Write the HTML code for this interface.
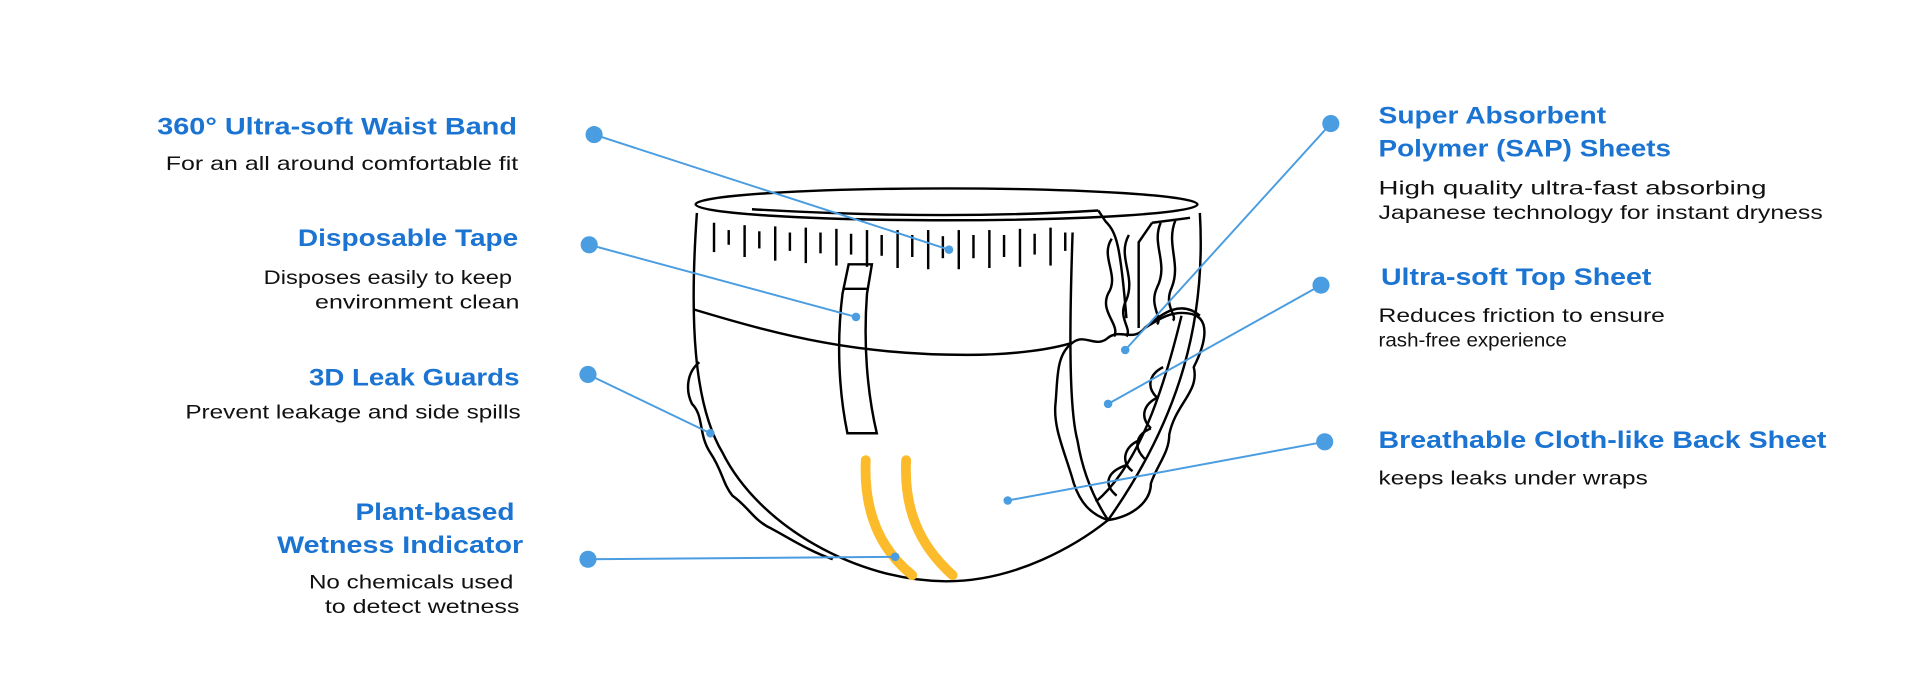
<!DOCTYPE html>
<html><head><meta charset="utf-8"><style>
html,body{margin:0;padding:0;background:#fff;}
svg{display:block;}
.t{font-family:"Liberation Sans",sans-serif;font-weight:bold;font-size:19.5px;fill:#1b74d2;}
.d{font-family:"Liberation Sans",sans-serif;font-size:15.5px;fill:#111;}
.k{fill:none;stroke:#000;stroke-width:2;}
.b{stroke:#4a9de0;stroke-width:1.6;fill:none;}
.dot{fill:#4a9de0;}
</style></head><body>
<svg width="1920" height="700" viewBox="0 0 1568 572" xmlns="http://www.w3.org/2000/svg">
<g class="k">
<ellipse cx="773" cy="167" rx="205" ry="13"/>
<path d="M569 174 C563 260 566 330 590 370 C620 430 700 475 773 475 C830 475 880 445 905 425"/>
<path d="M980 174 C985 260 965 340 905 425"/>
<path d="M567 253 C640 275 700 290 790 290 C830 290 860 285 876 280"/>
<path d="M614 171 C700 176 800 178 897 172"/>
<path d="M571 296 C560 305 560 320 565 330 C575 340 570 355 580 370 C590 385 590 395 598 405 C612 415 615 425 630 432 C645 440 660 450 680 457"/>
<path d="M693 216 L712 216 L708 240 C705 280 708 320 716 354 L692 354 C685 320 683 280 688 240 Z"/>
<path d="M688 236 L708 236"/>
<path d="M876 190 C874 250 872 330 880 360 C885 390 895 410 905 425"/>
<path d="M876 280 C886 272 895 285 905 276 C915 268 925 280 935 268 C950 255 965 245 980 258"/>
<path d="M876 280 C862 290 864 310 862 330 C860 350 870 370 877 395 C882 410 890 420 905 425 C925 422 940 410 940 395 C945 380 955 370 955 355 C960 330 980 320 975 300 C985 280 990 258 970 256 C955 254 945 262 935 268"/>
<path d="M965 258 C950 320 930 380 895 410"/>
<path d="M897 172 L903 181 C912 190 915 200 920 260"/>
<path d="M941 182 L930 198 L930 268"/>
<path d="M941 182 L972 178"/>
<path d="M908 195 C898 210 915 225 905 240 C898 255 915 265 910 275" />
<path d="M922 192 C912 210 928 225 920 245 C912 260 925 268 920 275"/>
<path d="M948 182 C940 200 955 215 945 235 C938 250 950 260 945 265"/>
<path d="M960 180 C952 200 965 215 957 235 C950 250 962 258 958 262"/>
<path d="M950 300 C940 305 935 315 945 325 M945 325 C935 330 930 340 940 350 M940 350 C928 355 925 365 935 375 M930 360 C918 365 915 378 925 385 M920 380 C905 385 900 395 912 405"/>
</g>
<g stroke="#000" stroke-width="2">
<line x1="583" y1="182" x2="583" y2="206"/><line x1="595" y1="188" x2="595" y2="200"/>
<line x1="608" y1="184" x2="608" y2="210"/><line x1="620" y1="189" x2="620" y2="203"/>
<line x1="633" y1="185" x2="633" y2="213"/><line x1="645" y1="190" x2="645" y2="205"/>
<line x1="658" y1="186" x2="658" y2="215"/><line x1="670" y1="190" x2="670" y2="207"/>
<line x1="683" y1="187" x2="683" y2="217"/><line x1="695" y1="191" x2="695" y2="208"/>
<line x1="708" y1="188" x2="708" y2="218"/><line x1="720" y1="192" x2="720" y2="209"/>
<line x1="733" y1="188" x2="733" y2="219"/><line x1="745" y1="192" x2="745" y2="210"/>
<line x1="758" y1="188" x2="758" y2="220"/><line x1="770" y1="193" x2="770" y2="211"/>
<line x1="783" y1="188" x2="783" y2="220"/><line x1="795" y1="192" x2="795" y2="211"/>
<line x1="808" y1="188" x2="808" y2="219"/><line x1="820" y1="192" x2="820" y2="210"/>
<line x1="833" y1="187" x2="833" y2="218"/><line x1="845" y1="191" x2="845" y2="208"/>
<line x1="858" y1="186" x2="858" y2="217"/><line x1="870" y1="190" x2="870" y2="205"/>
</g>
<g stroke="#fbbb2b" stroke-width="8" fill="none" stroke-linecap="round">
<path d="M707 376 C705 420 720 450 745 470"/>
<path d="M740 376 C738 415 750 445 778 470"/>
</g>
<g class="b">
<line x1="485" y1="110" x2="775" y2="204"/>
<line x1="481" y1="200" x2="699" y2="259"/>
<line x1="480" y1="306" x2="580" y2="354"/>
<line x1="480" y1="457" x2="731" y2="455"/>
<line x1="1087" y1="101" x2="919" y2="286"/>
<line x1="1079" y1="233" x2="905" y2="330"/>
<line x1="1082" y1="361" x2="823" y2="409"/>
</g>
<g class="dot">
<circle cx="485" cy="110" r="7"/><circle cx="481" cy="200" r="7"/><circle cx="480" cy="306" r="7"/><circle cx="480" cy="457" r="7"/>
<circle cx="1087" cy="101" r="7"/><circle cx="1079" cy="233" r="7"/><circle cx="1082" cy="361" r="7"/>
<circle cx="775" cy="204" r="3.5"/><circle cx="699" cy="259" r="3.5"/><circle cx="580" cy="354" r="3.5"/><circle cx="731" cy="455" r="3.5"/>
<circle cx="919" cy="286" r="3.5"/><circle cx="905" cy="330" r="3.5"/><circle cx="823" cy="409" r="3.5"/>
</g>
<g>
<text class="t" x="128" y="110" textLength="294" lengthAdjust="spacingAndGlyphs">360° Ultra-soft Waist Band</text>
<text class="d" x="135" y="139" textLength="288" lengthAdjust="spacingAndGlyphs">For an all around comfortable fit</text>
<text class="t" x="243" y="201" textLength="180" lengthAdjust="spacingAndGlyphs">Disposable Tape</text>
<text class="d" x="215" y="232" textLength="203" lengthAdjust="spacingAndGlyphs">Disposes easily to keep</text>
<text class="d" x="257" y="252" textLength="167" lengthAdjust="spacingAndGlyphs">environment clean</text>
<text class="t" x="252" y="315" textLength="172" lengthAdjust="spacingAndGlyphs">3D Leak Guards</text>
<text class="d" x="151" y="342" textLength="274" lengthAdjust="spacingAndGlyphs">Prevent leakage and side spills</text>
<text class="t" x="290" y="425" textLength="130" lengthAdjust="spacingAndGlyphs">Plant-based</text>
<text class="t" x="226" y="452" textLength="201" lengthAdjust="spacingAndGlyphs">Wetness Indicator</text>
<text class="d" x="252" y="481" textLength="167" lengthAdjust="spacingAndGlyphs">No chemicals used</text>
<text class="d" x="265" y="501" textLength="159" lengthAdjust="spacingAndGlyphs">to detect wetness</text>
<text class="t" x="1126" y="101" textLength="186" lengthAdjust="spacingAndGlyphs">Super Absorbent</text>
<text class="t" x="1126" y="128" textLength="239" lengthAdjust="spacingAndGlyphs">Polymer (SAP) Sheets</text>
<text class="d" x="1126" y="159" textLength="317" lengthAdjust="spacingAndGlyphs">High quality ultra-fast absorbing</text>
<text class="d" x="1126" y="179" textLength="363" lengthAdjust="spacingAndGlyphs">Japanese technology for instant dryness</text>
<text class="t" x="1128" y="233" textLength="221" lengthAdjust="spacingAndGlyphs">Ultra-soft Top Sheet</text>
<text class="d" x="1126" y="263" textLength="234" lengthAdjust="spacingAndGlyphs">Reduces friction to ensure</text>
<text class="d" x="1126" y="283" textLength="154" lengthAdjust="spacingAndGlyphs">rash-free experience</text>
<text class="t" x="1126" y="366" textLength="366" lengthAdjust="spacingAndGlyphs">Breathable Cloth-like Back Sheet</text>
<text class="d" x="1126" y="396" textLength="220" lengthAdjust="spacingAndGlyphs">keeps leaks under wraps</text>
</g>
</svg>
</body></html>
